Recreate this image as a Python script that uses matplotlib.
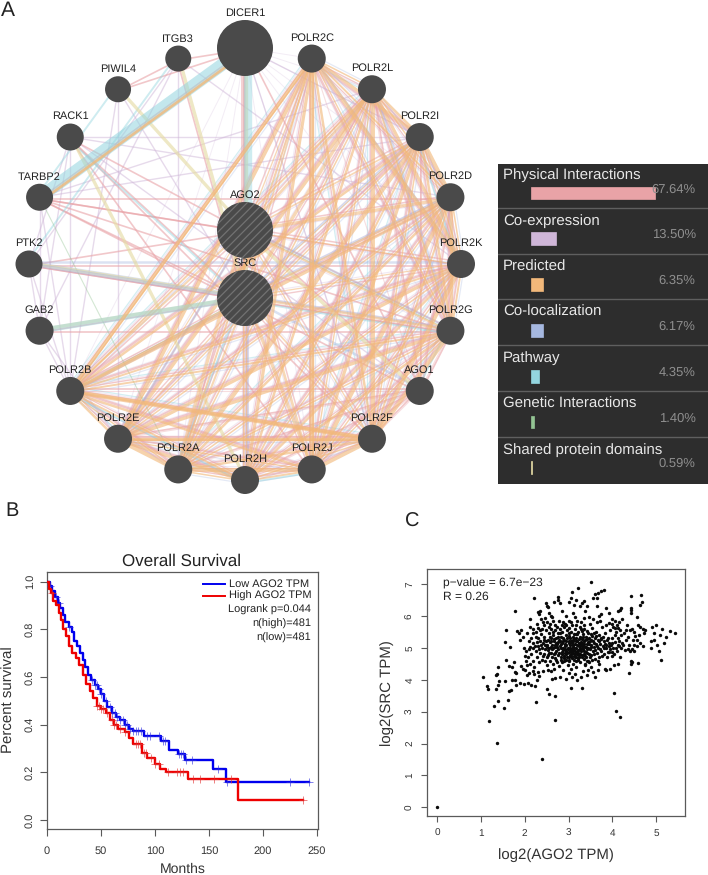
import itertools
import numpy as np
import matplotlib
matplotlib.use('Agg')
import matplotlib.pyplot as plt
from matplotlib.patches import Circle

plt.rcParams['font.family'] = ['Liberation Sans', 'DejaVu Sans']
plt.rcParams['hatch.linewidth'] = 0.9
plt.rcParams['text.hinting'] = 'no_hinting'
plt.rcParams['text.hinting_factor'] = 1

# ---- panel A data
ring_genes = ['DICER1', 'POLR2C', 'POLR2L', 'POLR2I', 'POLR2D', 'POLR2K', 'POLR2G', 'AGO1',
              'POLR2F', 'POLR2J', 'POLR2H', 'POLR2A', 'POLR2E', 'POLR2B', 'GAB2', 'PTK2',
              'TARBP2', 'RACK1', 'PIWIL4', 'ITGB3']
polr2 = ['POLR2C', 'POLR2L', 'POLR2I', 'POLR2D', 'POLR2K', 'POLR2G', 'POLR2F', 'POLR2J',
         'POLR2H', 'POLR2A', 'POLR2E', 'POLR2B']
query_genes = ['AGO2', 'SRC']

network_types = ['Physical Interactions', 'Co-expression', 'Predicted', 'Co-localization',
                 'Pathway', 'Genetic Interactions', 'Shared protein domains']
network_pct = [67.64, 13.50, 6.35, 6.17, 4.35, 1.40, 0.59]
pct_labels = ['67.64%', '13.50%', '6.35%', '6.17%', '4.35%', '1.40%', '0.59%']

physical_extra = [('TARBP2', 'AGO2'), ('TARBP2', 'SRC'), ('TARBP2', 'DICER1'), ('TARBP2', 'POLR2D'),
                  ('TARBP2', 'POLR2G'), ('TARBP2', 'POLR2K'), ('RACK1', 'SRC'), ('RACK1', 'POLR2F'),
                  ('RACK1', 'AGO2'), ('PTK2', 'SRC'), ('PTK2', 'AGO2'), ('PTK2', 'POLR2K'),
                  ('GAB2', 'SRC'), ('ITGB3', 'SRC'), ('ITGB3', 'DICER1'), ('PIWIL4', 'DICER1'),
                  ('PIWIL4', 'ITGB3'), ('DICER1', 'AGO2'), ('DICER1', 'SRC'), ('AGO2', 'SRC'),
                  ('AGO1', 'POLR2G'), ('AGO1', 'POLR2F'), ('AGO1', 'POLR2B'), ('AGO1', 'POLR2D'),
                  ('AGO1', 'POLR2J'), ('AGO1', 'AGO2'), ('AGO1', 'DICER1'), ('RACK1', 'POLR2J'),
                  ('TARBP2', 'AGO1'), ('PTK2', 'POLR2G'), ('GAB2', 'POLR2G'), ('AGO1', 'POLR2E'),
                  ('AGO1', 'POLR2A'), ('AGO1', 'POLR2H'), ('AGO1', 'POLR2L'), ('AGO1', 'POLR2I')]
coexp_extra = [('RACK1', 'POLR2I'), ('RACK1', 'PTK2'), ('RACK1', 'GAB2'), ('RACK1', 'POLR2B'),
               ('PIWIL4', 'SRC'), ('PIWIL4', 'POLR2B'), ('PTK2', 'ITGB3'), ('TARBP2', 'POLR2I'),
               ('TARBP2', 'POLR2L'), ('TARBP2', 'POLR2B'), ('PTK2', 'GAB2'), ('PTK2', 'POLR2B'),
               ('GAB2', 'POLR2B'), ('ITGB3', 'GAB2'), ('ITGB3', 'POLR2A'), ('DICER1', 'POLR2F'),
               ('RACK1', 'POLR2D'), ('DICER1', 'POLR2H'), ('DICER1', 'POLR2I'), ('PIWIL4', 'POLR2E'),
               ('GAB2', 'POLR2E'), ('ITGB3', 'POLR2K'), ('AGO1', 'RACK1'), ('TARBP2', 'GAB2')]
coloc_extra = [('PTK2', 'POLR2K'), ('PTK2', 'SRC'), ('SRC', 'AGO1'), ('SRC', 'POLR2H'),
               ('SRC', 'POLR2B'), ('AGO2', 'POLR2G'), ('SRC', 'POLR2D'), ('SRC', 'POLR2G'),
               ('AGO2', 'POLR2E'), ('SRC', 'POLR2I'), ('POLR2L', 'POLR2G'), ('POLR2C', 'POLR2K')]
pathway_extra = [('POLR2G', 'AGO1'), ('POLR2I', 'POLR2K'), ('POLR2B', 'POLR2H'), ('SRC', 'POLR2A'),
                 ('ITGB3', 'PTK2'), ('SRC', 'POLR2G'), ('RACK1', 'SRC'), ('PIWIL4', 'TARBP2'),
                 ('POLR2H', 'POLR2J')]
shared_extra = [('PIWIL4', 'AGO2'), ('ITGB3', 'SRC'), ('DICER1', 'SRC'), ('PTK2', 'SRC'),
                ('GAB2', 'SRC'), ('AGO1', 'AGO2'), ('RACK1', 'POLR2H')]
genetic_extra = [('POLR2B', 'SRC'), ('POLR2G', 'AGO2'), ('TARBP2', 'POLR2A')]

# ---- panel B data, months and survival
low_months = [0, 3, 5, 7, 10, 12, 15, 17, 20, 23, 25, 28, 31, 33, 35, 38, 41, 44, 47, 50, 53,
              56, 60, 64, 68, 72, 76, 80, 90, 106, 113, 121, 128, 154, 166, 243]
low_surv = [1.0, .98, .96, .935, .91, .89, .86, .83, .81, .79, .75, .73, .70, .67, .64, .61,
            .585, .565, .55, .53, .50, .475, .45, .43, .42, .40, .38, .375, .35, .33, .295,
            .275, .25, .215, .16, .16]
high_months = [0, 2, 4, 6, 8, 11, 13, 15, 18, 20, 23, 27, 30, 33, 36, 40, 43, 46, 50, 55, 58,
               62, 66, 72, 76, 80, 88, 93, 100, 105, 110, 131, 177, 237]
high_surv = [1.0, .97, .95, .92, .90, .87, .84, .80, .77, .73, .70, .68, .65, .61, .57, .54,
             .51, .48, .465, .45, .42, .40, .38, .37, .345, .32, .28, .26, .235, .215, .20,
             .17, .085, .085]
low_censor = [3, 8, 11, 20, 42, 44, 46, 48, 50, 55, 58, 60, 63, 65, 68, 70, 72, 74, 77, 80, 82,
              84, 87, 93, 95, 104, 107, 109, 122, 124, 126, 129, 134, 158, 167, 225, 243]
high_censor = [5, 46, 48, 50, 52, 56, 60, 62, 64, 68, 72, 82, 84, 86, 90, 92, 96, 100, 104, 112,
               120, 123, 126, 135, 142, 155, 170, 237]

# ---- panel C data
scatter_points = [
    (0, 0), (2.4, 1.53), (1.37, 2.03), (1.19, 2.72), (2.68, 2.75), (4.07, 3.02), (4.18, 2.83),
    (4.04, 3.58), (2.25, 3.31), (1.53, 3.1), (1.29, 3.17), (1.38, 3.33), (1.62, 3.38),
    (1.05, 4.07), (1.13, 3.8), (1.16, 3.7), (1.35, 3.7), (1.38, 3.85), (1.42, 3.95), (1.35, 4.15),
    (1.36, 4.18), (1.4, 4.4), (1.55, 3.95), (1.65, 3.65), (1.68, 3.67), (1.7, 4.0), (1.78, 3.98),
    (1.8, 3.85), (1.9, 3.9), (1.98, 3.86), (2.08, 3.9), (2.15, 3.85), (2.24, 3.8), (2.5, 3.7),
    (2.55, 3.55), (2.7, 3.5), (3.05, 3.75), (3.3, 3.75), (3.2, 3.98), (3.28, 4.08), (3.08, 4.08),
    (2.95, 4.02), (2.8, 4.1), (2.68, 4.05), (2.62, 4.03), (2.42, 4.28), (2.3, 4.25), (2.22, 4.18),
    (2.1, 4.2), (2.05, 4.15), (1.8, 4.2), (1.78, 4.25), (1.72, 4.4), (1.65, 4.42), (1.75, 4.55),
    (1.57, 4.62), (1.66, 5.03), (1.55, 5.18), (1.57, 5.55), (1.78, 6.15), (1.82, 5.52),
    (1.88, 5.45), (1.92, 5.55), (1.9, 5.25), (1.95, 5.35), (1.98, 5.0), (2.0, 4.75), (2.02, 4.9),
    (2.06, 4.45), (2.08, 4.72), (2.1, 5.22), (2.13, 5.9), (2.18, 5.45), (2.2, 5.6), (2.21, 6.55),
    (2.25, 5.5), (2.27, 5.75), (2.3, 6.12), (2.33, 6.05), (2.35, 6.15), (2.38, 5.9), (2.42, 5.8),
    (2.46, 5.92), (2.48, 6.4), (2.5, 6.3), (2.53, 6.28), (2.55, 6.1), (2.6, 6.0), (2.63, 5.95),
    (2.67, 6.45), (2.75, 6.6), (2.76, 6.5), (2.8, 6.4), (2.84, 6.15), (2.88, 5.8), (2.92, 5.75),
    (3.0, 5.85), (3.02, 6.45), (3.05, 6.55), (3.08, 6.75), (3.12, 6.35), (3.18, 6.5), (3.22, 6.88),
    (3.26, 6.3), (3.3, 6.4), (3.36, 6.48), (3.38, 6.15), (3.42, 6.3), (3.46, 5.95), (3.52, 7.05),
    (3.55, 6.55), (3.6, 6.7), (3.65, 6.55), (3.68, 6.72), (3.75, 6.78), (3.8, 6.82), (3.65, 6.3),
    (3.7, 6.0), (3.72, 5.85), (3.75, 6.05), (3.85, 6.25), (3.92, 6.1), (4.0, 5.9), (4.05, 5.85),
    (4.12, 6.15), (4.18, 6.2), (4.2, 6.25), (4.42, 6.62), (4.42, 6.25), (4.43, 6.2), (4.42, 6.1),
    (4.62, 6.35), (4.65, 6.65), (4.67, 6.45), (4.55, 5.95), (4.58, 5.7), (4.62, 5.65), (4.7, 5.6),
    (4.75, 5.55), (4.72, 5.45), (4.6, 5.4), (4.5, 5.5), (4.45, 5.6), (4.4, 5.55), (4.35, 5.35),
    (4.3, 5.25), (4.25, 5.1), (4.5, 5.1), (4.55, 5.25), (4.62, 5.15), (4.7, 5.05), (4.57, 5.05),
    (4.45, 4.95), (4.4, 4.9), (4.35, 4.95), (4.2, 4.98), (4.28, 4.92), (4.48, 4.9), (4.42, 4.6),
    (4.45, 4.55), (4.42, 4.5), (4.58, 4.52), (4.38, 4.2), (4.18, 4.72), (4.12, 4.5), (4.03, 4.45),
    (5.42, 5.47), (5.3, 5.53), (5.13, 5.6), (5.0, 5.7), (4.9, 5.65), (5.17, 5.15), (5.22, 5.35),
    (5.08, 5.4), (5.05, 4.9), (5.1, 4.63), (4.95, 5.45), (4.95, 5.25), (4.87, 5.0), (4.88, 5.2),
    (5.02, 5.1),
    (2.1, 4.95), (2.15, 4.82), (2.18, 5.0), (2.2, 4.6), (2.22, 4.4), (2.25, 4.9), (2.28, 4.7),
    (2.3, 5.05), (2.3, 5.3), (2.32, 4.55), (2.35, 4.85), (2.35, 5.2), (2.38, 5.42), (2.4, 5.0),
    (2.4, 4.62), (2.42, 5.15), (2.44, 4.8), (2.45, 5.35), (2.46, 4.95), (2.48, 5.55), (2.5, 5.1),
    (2.5, 4.7), (2.5, 4.45), (2.52, 5.25), (2.53, 4.3), (2.55, 5.0), (2.55, 5.45), (2.56, 4.85),
    (2.58, 4.6), (2.58, 5.18), (2.6, 5.6), (2.6, 5.3), (2.62, 4.95), (2.62, 4.72), (2.63, 5.1),
    (2.65, 4.5), (2.65, 5.4), (2.66, 4.35), (2.67, 5.2), (2.68, 5.7), (2.7, 4.85), (2.7, 5.02),
    (2.7, 5.55), (2.72, 5.3), (2.72, 4.62), (2.74, 5.12), (2.75, 4.78), (2.75, 5.45), (2.76, 4.95),
    (2.78, 5.25), (2.78, 5.85), (2.78, 4.42), (2.8, 5.05), (2.8, 5.6), (2.82, 4.7), (2.82, 5.35),
    (2.84, 4.88), (2.85, 5.15), (2.85, 4.55), (2.86, 5.5), (2.88, 5.0), (2.88, 4.3), (2.9, 5.25),
    (2.9, 4.75), (2.9, 5.65), (2.92, 4.95), (2.93, 5.4), (2.94, 4.62), (2.95, 5.1), (2.95, 4.82),
    (2.96, 5.55), (2.97, 5.3), (2.98, 4.45), (2.98, 5.0), (3.0, 4.72), (3.0, 5.2), (3.0, 5.45),
    (3.01, 4.88), (3.02, 5.62), (3.02, 4.58), (3.03, 5.08), (3.04, 5.32), (3.05, 4.8), (3.05, 4.35),
    (3.06, 4.95), (3.06, 5.5), (3.07, 5.15), (3.08, 4.68), (3.08, 5.72), (3.1, 5.25), (3.1, 4.85),
    (3.1, 4.5), (3.11, 5.02), (3.12, 5.42), (3.13, 4.75), (3.14, 5.58), (3.15, 5.12), (3.15, 4.9),
    (3.16, 4.6), (3.18, 5.3), (3.18, 5.0), (3.18, 4.4), (3.2, 5.2), (3.2, 4.8), (3.2, 5.85),
    (3.22, 5.48), (3.22, 4.68), (3.24, 5.05), (3.25, 5.35), (3.25, 4.92), (3.26, 4.55), (3.28, 5.18),
    (3.28, 5.6), (3.3, 4.78), (3.3, 5.0), (3.3, 5.28), (3.32, 4.28), (3.32, 5.42), (3.34, 4.65),
    (3.35, 5.12), (3.35, 4.9), (3.36, 5.72), (3.38, 5.25), (3.38, 4.45), (3.4, 5.02), (3.4, 5.35),
    (3.4, 4.72), (3.42, 5.52), (3.42, 4.85), (3.44, 5.18), (3.45, 4.3), (3.45, 4.6), (3.46, 5.3),
    (3.48, 4.95), (3.5, 5.1), (3.5, 5.42), (3.5, 4.4), (3.52, 4.78), (3.54, 5.62), (3.55, 5.2),
    (3.55, 4.9), (3.56, 4.25), (3.58, 5.02), (3.6, 5.32), (3.6, 4.65), (3.62, 5.12), (3.62, 5.5),
    (3.64, 4.85), (3.66, 5.25), (3.66, 4.32), (3.68, 5.0), (3.7, 5.4), (3.7, 4.72), (3.72, 5.12),
    (3.74, 4.9), (3.75, 5.28), (3.76, 5.65), (3.78, 5.05), (3.8, 4.82), (3.8, 5.2), (3.82, 5.45),
    (3.84, 4.35), (3.85, 4.98), (3.86, 5.1), (3.88, 4.7), (3.9, 5.3), (3.92, 5.05), (3.92, 4.88),
    (3.95, 5.55), (3.95, 4.35), (3.98, 4.75), (4.0, 5.15), (4.0, 4.88), (4.02, 5.65), (4.05, 5.4),
    (4.08, 5.0), (4.1, 5.72), (4.12, 5.3), (4.15, 5.8), (4.18, 5.55), (4.2, 5.4), (4.22, 5.9),
    (4.05, 5.62), (4.12, 5.1), (3.85, 5.72), (3.92, 5.78), (3.65, 5.82), (3.55, 5.9), (3.48, 5.75),
    (3.36, 5.92), (3.28, 5.82), (3.15, 5.95), (3.1, 6.1), (2.95, 6.0), (2.58, 5.75), (2.5, 5.8),
    (2.4, 5.6), (2.35, 5.55), (2.25, 5.35), (2.15, 5.3), (2.12, 5.02), (2.03, 4.6), (1.92, 4.42),
    (1.95, 4.35), (2.0, 4.3), (2.12, 4.5), (2.18, 4.28), (2.32, 4.12), (2.28, 3.98), (2.6, 4.28),
    (3.0, 4.2), (3.15, 4.18), (3.42, 4.15), (3.6, 4.1), (3.85, 4.32), (3.38, 4.5), (3.7, 4.5),
    (2.82, 5.0), (2.86, 4.82), (2.92, 5.12), (2.96, 4.72), (3.04, 4.9), (3.06, 4.75), (3.1, 5.08),
    (3.14, 4.82), (3.16, 5.22), (3.22, 4.85), (3.24, 5.28), (3.26, 5.1), (3.32, 4.95), (3.34, 5.2),
    (3.44, 5.0), (3.46, 4.82), (3.52, 5.25), (2.68, 5.08), (2.72, 4.9), (2.76, 5.18), (2.64, 5.0),
    (2.52, 4.92), (2.46, 5.08), (2.9, 4.58), (3.0, 4.62), (3.12, 4.62), (3.24, 4.72), (3.34, 4.8),
    (3.0, 5.38), (3.1, 5.35), (3.2, 5.42), (3.3, 5.52), (2.8, 5.45), (2.88, 5.32), (2.6, 5.22),
    (2.66, 5.28), (2.71, 5.14), (2.77, 5.34), (2.83, 5.12), (2.87, 4.92), (2.91, 4.84), (2.94, 5.2),
    (2.99, 4.96), (3.03, 4.78), (3.07, 4.86), (3.09, 5.0), (3.13, 4.98), (3.17, 4.72), (3.19, 5.1),
    (3.21, 4.94), (3.23, 5.14), (3.27, 4.82), (3.29, 5.08), (3.31, 5.16), (3.33, 5.34), (3.37, 5.04),
    (3.39, 4.88), (3.41, 5.12), (3.43, 5.28), (3.47, 5.12), (3.49, 4.7), (3.51, 5.02), (3.53, 5.38),
    (3.57, 4.8), (3.59, 5.14), (3.61, 4.92), (3.63, 5.36), (3.65, 5.06), (3.67, 4.6), (3.69, 5.2),
    (3.71, 4.95), (3.73, 5.3), (3.77, 4.75), (3.79, 5.35), (3.81, 5.0), (3.83, 5.12), (3.87, 5.25),
    (3.89, 4.88), (3.91, 5.15), (3.94, 4.95), (3.97, 5.08), (3.99, 5.32), (4.01, 5.0), (4.03, 4.8),
    (4.06, 5.18), (4.1, 4.9), (4.14, 5.05), (4.16, 5.2), (4.22, 5.15), (4.26, 5.45), (4.3, 5.55),
    (4.33, 5.7), (4.38, 5.1), (4.46, 5.25), (4.52, 5.38), (4.08, 5.5), (4.13, 5.62), (3.98, 5.75),
    (2.2, 5.15), (2.24, 5.05), (2.28, 5.18), (2.33, 4.95), (2.37, 5.1), (2.41, 4.75), (2.43, 5.25),
    (2.47, 4.6), (2.49, 5.2), (2.51, 5.02), (2.54, 4.78), (2.57, 5.35), (2.59, 5.02), (2.61, 4.85),
    (2.64, 5.5), (2.66, 4.8), (2.69, 4.68), (2.73, 5.02), (2.74, 4.55), (2.79, 4.85), (2.81, 5.2),
    (2.83, 4.62), (2.87, 5.22), (2.89, 4.68), (2.91, 5.05), (2.93, 4.9), (2.97, 4.85), (3.01, 5.15),
    (3.03, 5.0), (3.05, 5.22), (3.09, 4.92), (3.11, 5.2), (3.13, 5.28), (3.15, 4.7), (3.17, 5.42),
    (3.19, 4.88), (3.21, 4.62), (3.23, 4.78), (3.27, 5.0), (3.29, 4.9), (3.31, 4.7), (3.33, 5.05),
    (3.37, 4.75), (3.41, 4.6), (3.43, 4.95), (3.47, 4.55), (3.49, 5.22), (3.53, 4.62), (3.57, 5.45),
    (2.95, 5.7), (3.05, 5.8), (3.18, 5.7), (3.25, 5.65), (3.35, 5.6), (3.45, 5.45), (2.74, 5.65),
    (2.85, 5.72), (2.65, 5.85), (2.55, 5.65), (2.45, 5.7), (2.3, 5.62), (2.12, 5.65), (2.05, 5.45),
]
ago2_tpm = [p[0] for p in scatter_points]
src_tpm = [p[1] for p in scatter_points]

W, H = 708, 875
DARK = '#4a4a4a'
BOX = '#5a5a5a'
fig = plt.figure(figsize=(W / 100, H / 100), dpi=100, facecolor='white')


def axes_px(left, top, right, bottom, **kw):
    return fig.add_axes([left / W, 1 - bottom / H, (right - left) / W, (bottom - top) / H], **kw)


# overlay in pixel coords for network and free text
net = axes_px(0, 0, W, H)
net.set_xlim(0, W)
net.set_ylim(H, 0)
net.axis('off')

cx, cy, ring_r = 245, 264, 216
node_xy = {}
for k, g in enumerate(ring_genes):
    a = np.deg2rad(18 * k)
    node_xy[g] = (cx + ring_r * np.sin(a), cy - ring_r * np.cos(a))
node_xy['AGO2'] = (245, 230)
node_xy['SRC'] = (245, 298)
node_r = {g: 14 for g in ring_genes}
node_r.update({'DICER1': 28, 'AGO2': 28, 'SRC': 28, 'ITGB3': 13, 'PIWIL4': 13, 'RACK1': 13.5,
               'TARBP2': 13.5, 'PTK2': 13.5})

C_PHYS = '#e9a3a7'
C_COEX = '#cfb6d8'
C_PRED = '#f2b87a'
C_COLOC = '#a6b8e0'
C_PATH = '#93d5df'
C_GEN = '#93c493'
C_SHARED = '#e6dca6'
colors = [C_PHYS, C_COEX, C_PRED, C_COLOC, C_PATH, C_GEN, C_SHARED]


def edge(a, b, c, lw, alpha=0.6, off=0):
    # parallel strands between two nodes, offset sideways in pixels
    (x0, y0), (x1, y1) = node_xy[a], node_xy[b]
    d = np.hypot(x1 - x0, y1 - y0)
    nx, ny = -(y1 - y0) / d * off, (x1 - x0) / d * off
    net.plot([x0 + nx, x1 + nx], [y0 + ny, y1 + ny], color=c, lw=lw, alpha=alpha,
             solid_capstyle='butt', zorder=1)


thin = [1.0, 1.5, 0.9, 1.3, 1.7]
thick = [1.1, 2.3, 1.4, 2.8, 1.0, 1.8]
pairs = list(itertools.combinations(polr2, 2))
for k, (a, b) in enumerate(pairs):
    edge(a, b, C_COEX, 0.8, 0.28, 3)
    if k % 2 == 0:
        edge(a, b, C_COLOC, 0.9, 0.3, -3.5)
    if k % 5 == 0:
        edge(a, b, C_PATH, 0.9, 0.4, 4.5)
    edge(a, b, C_PHYS, thin[k % 5], 0.6, 1.5)
for k, g in enumerate(polr2):
    edge(g, 'AGO2', C_PHYS, 1.1, 0.55, 2)
    edge(g, 'SRC', C_PHYS, 1.0, 0.55, -2)
    edge(g, 'AGO2', C_COEX, 0.8, 0.3, -3)
    edge(g, 'SRC', C_COEX, 0.8, 0.3, 3)
    edge(g, 'DICER1', C_COEX, 0.7, 0.25)
    edge(g, 'AGO1', C_PHYS, 0.8, 0.35)
for a, b in coexp_extra:
    edge(a, b, C_COEX, 1.0, 0.5)
for a, b in physical_extra:
    edge(a, b, C_PHYS, 1.2, 0.6, 1.5)
for a, b in coloc_extra:
    edge(a, b, C_COLOC, 1.8, 0.4, -2)
for a, b in pathway_extra:
    edge(a, b, C_PATH, 1.4, 0.45, 3)
for a, b in genetic_extra:
    edge(a, b, C_GEN, 0.8, 0.4)
for a, b in shared_extra:
    edge(a, b, C_SHARED, 2.4, 0.65, -1)
for k, (a, b) in enumerate(pairs):
    edge(a, b, C_PRED, thick[k % 6], 0.62, -1)
for k, g in enumerate(polr2):
    edge(g, 'AGO2', C_PRED, thick[k % 6] * 0.85, 0.55, -1)
    edge(g, 'SRC', C_PRED, thick[(k + 2) % 6] * 0.85, 0.55, 1)

# the heavy edges that stand out
edge('TARBP2', 'DICER1', C_PATH, 9, 0.55)
edge('TARBP2', 'DICER1', C_PRED, 2.0, 0.8, 4)
edge('DICER1', 'AGO2', C_PATH, 6, 0.45, -3)
edge('DICER1', 'AGO2', C_PHYS, 1.4, 0.5, 3)
edge('GAB2', 'SRC', C_PATH, 4, 0.45)
edge('PTK2', 'SRC', C_COLOC, 2.4, 0.45)
edge('POLR2C', 'POLR2B', C_PRED, 2.6, 0.7)
edge('POLR2C', 'POLR2J', C_PRED, 3.2, 0.65)
edge('POLR2B', 'POLR2F', C_PRED, 2.4, 0.7)
edge('POLR2E', 'POLR2F', C_PRED, 2.4, 0.7)

for g, (x, y) in node_xy.items():
    r = node_r.get(g, 28)
    if g in query_genes:
        net.add_patch(Circle((x, y), r, facecolor=DARK, edgecolor='#727272', lw=0, hatch='////', zorder=3))
    else:
        net.add_patch(Circle((x, y), r, facecolor=DARK, edgecolor='none', zorder=3))
    net.text(x, y - r - 7, g, ha='center', va='center', fontsize=7.8, color='#222222', zorder=4)

# ---- legend panel
leg = axes_px(498, 163.5, 708, 484)
leg.set_facecolor('#2d2d2d')
leg.set_xlim((498 - 531.3) / 1.83, (708 - 531.3) / 1.83)
leg.set_ylim(7, 0)
for s in leg.spines.values():
    s.set_visible(False)
leg.set_xticks([])
leg.set_yticks([])
rows = np.arange(7)
leg.barh(rows + 0.645, network_pct, height=0.28, color=colors, edgecolor=colors, lw=0.5, zorder=2)
for i in rows[1:]:
    leg.axhline(i - 0.03, color='#5f5f5f', lw=1)
for i, (name, p) in enumerate(zip(network_types, pct_labels)):
    leg.text(-15.5, i + 0.25, name, fontsize=11, color='#e8e8e8', va='center', ha='left', zorder=3)
    leg.text(89.8, i + 0.56, p, fontsize=9, color='#8f8f8f', va='center', ha='right', zorder=3)

# ---- panel B
ax = axes_px(47, 572, 318, 829)
ax.set_xlim(0, 251)
ax.set_ylim(-0.038, 1.04)


def surv_at(months, surv, t):
    return surv[np.searchsorted(months, t, side='right') - 1]


ax.step(low_months, low_surv, where='post', color='#0000ee', lw=1.7, zorder=3)
ax.step(high_months, high_surv, where='post', color='#ee0000', lw=1.7, zorder=4)
ax.plot(low_censor, [surv_at(low_months, low_surv, t) for t in low_censor], '+', color='#3030e0',
        ms=6, mew=0.6, alpha=0.7, zorder=3)
ax.plot(high_censor, [surv_at(high_months, high_surv, t) for t in high_censor], '+', color='#e03030',
        ms=6, mew=0.6, alpha=0.7, zorder=4)
ax.set_xticks([0, 50, 100, 150, 200, 250])
ax.set_yticks([0.0, 0.2, 0.4, 0.6, 0.8, 1.0])
ax.set_yticklabels(['0.0', '0.2', '0.4', '0.6', '0.8', '1.0'], rotation=90, va='center')
ax.tick_params(length=5, width=0.8, color=BOX, labelsize=7.6, labelcolor='#333333', pad=3.5)
ax.tick_params(axis='x', pad=7.5)
for s in ax.spines.values():
    s.set_color(BOX)
    s.set_linewidth(0.9)

# ---- panel C
ax2 = axes_px(427.3, 569.3, 685.3, 816)
ax2.scatter(ago2_tpm, src_tpm, s=6, color='#0a0a0a', linewidths=0, zorder=3)
ax2.set_xlim(-0.22, 5.66)
ax2.set_ylim(-0.27, 7.46)
ax2.set_xticks(range(6))
ax2.set_yticks(range(8))
ax2.set_yticklabels([str(v) for v in range(8)], rotation=90, va='center')
ax2.tick_params(length=4.2, width=0.8, color=BOX, labelsize=7, labelcolor='#333333', pad=5)
for s in ax2.spines.values():
    s.set_color(BOX)
    s.set_linewidth(0.9)

# ---- free text in pixel coords
net.set_zorder(5)
net.patch.set_alpha(0)
ink = '#222222'
net.text(1, 11, 'A', fontsize=15, color=ink, va='center', ha='left')
net.text(5, 511, 'B', fontsize=14.5, color=ink, va='center', ha='left')
net.text(405, 522, 'C', fontsize=14.5, color=ink, va='center', ha='left')
net.text(182, 561, 'Overall Survival', fontsize=12, color=ink, ha='center', va='center')
net.text(183, 869, 'Months', fontsize=10.3, color='#333333', ha='center', va='center')
net.text(9, 700, 'Percent survival', fontsize=10.5, color='#333333', rotation=90, ha='center', va='center')
net.plot([203, 225], [584, 584], color='#0000ee', lw=1.4)
net.plot([203, 225], [595.5, 595.5], color='#ee0000', lw=1.4)
net.text(229, 584.5, 'Low AGO2 TPM', fontsize=8, color=ink, ha='left', va='center')
net.text(229, 596, 'High AGO2 TPM', fontsize=8, color=ink, ha='left', va='center')
net.text(311, 610, 'Logrank p=0.044', fontsize=8, color=ink, ha='right', va='center')
net.text(311, 624, 'n(high)=481', fontsize=8, color=ink, ha='right', va='center')
net.text(311, 638, 'n(low)=481', fontsize=8, color=ink, ha='right', va='center')
net.text(443, 583, 'p\u2212value = 6.7e\u221223', fontsize=8.9, color=ink, ha='left', va='center')
net.text(443, 597, 'R = 0.26', fontsize=8.9, color=ink, ha='left', va='center')
net.text(556, 855, 'log2(AGO2 TPM)', fontsize=10.5, color='#333333', ha='center', va='center')
net.text(387, 693, 'log2(SRC TPM)', fontsize=10.5, color='#333333', rotation=90, ha='center', va='center')

fig.savefig('out.png', dpi=100)
